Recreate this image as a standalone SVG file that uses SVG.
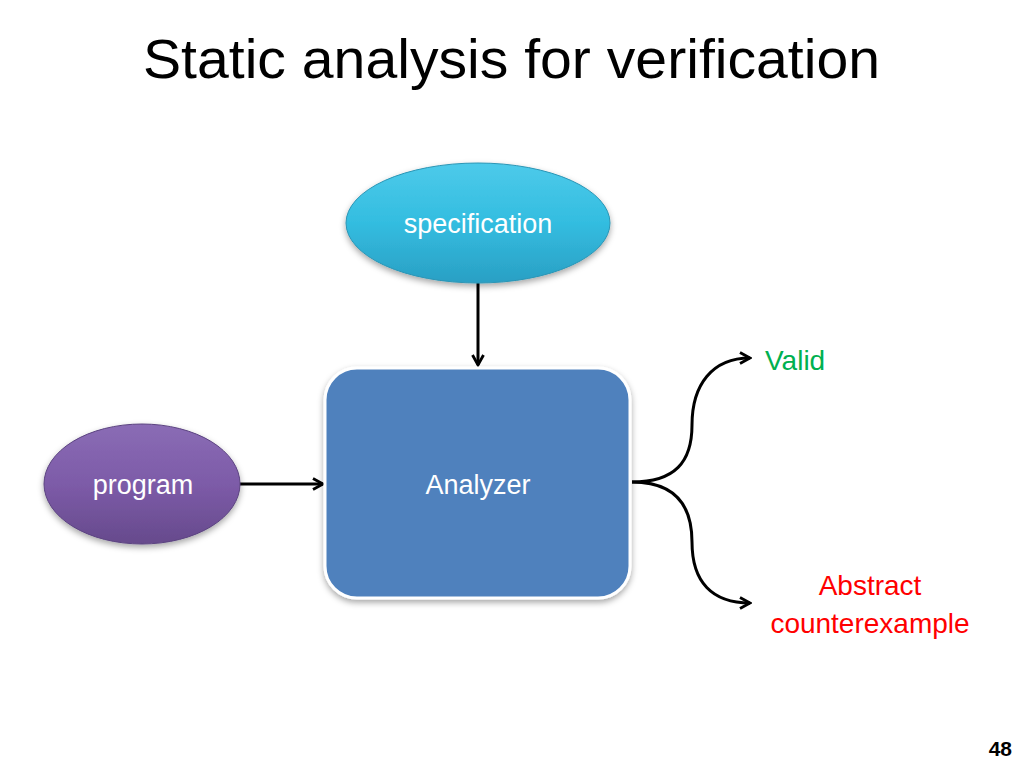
<svg xmlns="http://www.w3.org/2000/svg" width="1024" height="768" viewBox="0 0 1024 768">
<style>
.lbl{font-family:"Liberation Sans",Arial,sans-serif;font-size:27px;fill:#ffffff;text-anchor:middle}
.out{font-family:"Liberation Sans",Arial,sans-serif;font-size:28px}
.con{fill:none;stroke:#000;stroke-width:3}
</style>
<defs>
<linearGradient id="gSpec" x1="0" y1="0" x2="0" y2="1">
<stop offset="0" stop-color="#4dcaea"/><stop offset="0.5" stop-color="#33bde0"/><stop offset="1" stop-color="#2a9fc4"/>
</linearGradient>
<linearGradient id="gProg" x1="0" y1="0" x2="0" y2="1">
<stop offset="0" stop-color="#8a6cb5"/><stop offset="0.5" stop-color="#7d5ba8"/><stop offset="1" stop-color="#664a8c"/>
</linearGradient>
<filter id="sh" x="-20%" y="-20%" width="140%" height="150%">
<feDropShadow dx="0" dy="3" stdDeviation="3" flood-color="#000" flood-opacity="0.35"/>
</filter>
<marker id="ah" viewBox="0 0 14 14" refX="12" refY="7" markerWidth="14" markerHeight="14" markerUnits="userSpaceOnUse" orient="auto">
<path d="M2,1.5 L12,7 L2,12.5" fill="none" stroke="#000" stroke-width="2.8"/>
</marker>
</defs>
<rect width="1024" height="768" fill="#ffffff"/>
<text x="143" y="78" font-family="Liberation Sans,Arial,sans-serif" font-size="56" textLength="737" lengthAdjust="spacingAndGlyphs" fill="#000">Static analysis for verification</text>

<g id="connectors">
<line class="con" x1="478" y1="283" x2="478" y2="365" marker-end="url(#ah)"/>
<line class="con" x1="240" y1="484" x2="323" y2="484" marker-end="url(#ah)"/>
<path class="con" d="M632,482 C675,482 692,462 692,425 C692,385 712,358 750,358" marker-end="url(#ah)"/>
<path class="con" d="M632,482 C675,482 692,505 692,542 C692,582 712,603 750,603" marker-end="url(#ah)"/>
</g>

<g id="specification">
<ellipse cx="478" cy="223" rx="132" ry="60" fill="url(#gSpec)" stroke="#2a95b5" stroke-width="1" filter="url(#sh)"/>
<text class="lbl" x="478" y="233">specification</text>
</g>
<g id="program">
<ellipse cx="142" cy="484" rx="98" ry="60" fill="url(#gProg)" stroke="#5b4380" stroke-width="1" filter="url(#sh)"/>
<text class="lbl" x="143" y="494">program</text>
</g>
<g id="analyzer">
<rect x="325" y="368" width="305" height="230" rx="32" fill="#4f81bd" stroke="#ffffff" stroke-width="3" filter="url(#sh)"/>
<text class="lbl" x="478" y="494">Analyzer</text>
</g>
<g id="valid">
<text class="out" x="765" y="370" fill="#00b050">Valid</text>
</g>
<g id="counterexample">
<text class="out" x="870" y="595" fill="#ff0000" text-anchor="middle">Abstract</text>
<text class="out" x="870" y="633" fill="#ff0000" text-anchor="middle">counterexample</text>
</g>
<text x="1012" y="756" font-family="Liberation Sans,Arial,sans-serif" font-size="21" font-weight="bold" text-anchor="end" fill="#000">48</text>
</svg>
